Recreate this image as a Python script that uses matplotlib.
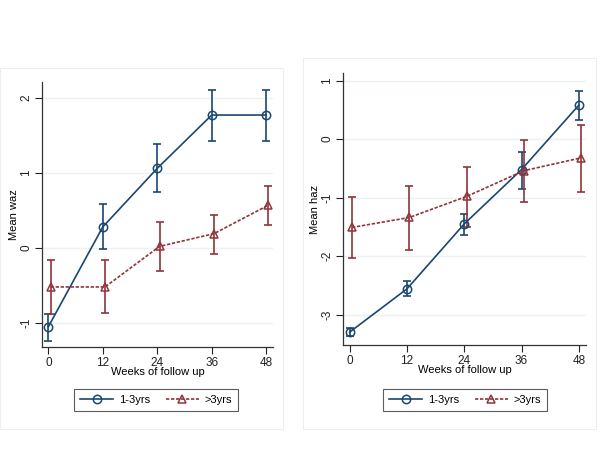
import matplotlib
matplotlib.use('Agg')
import matplotlib.pyplot as plt
from matplotlib.patches import Rectangle

plt.rcParams['font.family'] = ['Liberation Sans', 'DejaVu Sans']

weeks = [0, 12, 24, 36, 48]

# weight-for-age
waz_young = [-1.05, 0.28, 1.06, 1.77, 1.77]
waz_young_lo = [-1.24, -0.02, 0.75, 1.43, 1.43]
waz_young_hi = [-0.88, 0.59, 1.38, 2.11, 2.11]
waz_old = [-0.52, -0.52, 0.02, 0.19, 0.57]
waz_old_lo = [-0.88, -0.87, -0.31, -0.08, 0.31]
waz_old_hi = [-0.16, -0.16, 0.35, 0.44, 0.83]

# height-for-age
haz_young = [-3.30, -2.56, -1.45, -0.52, 0.58]
haz_young_lo = [-3.37, -2.69, -1.64, -0.85, 0.33]
haz_young_hi = [-3.23, -2.42, -1.28, -0.22, 0.82]
haz_old = [-1.51, -1.34, -0.98, -0.54, -0.32]
haz_old_lo = [-2.03, -1.89, -1.50, -1.08, -0.91]
haz_old_hi = [-0.99, -0.81, -0.48, -0.01, 0.245]

blue = '#1a476f'
red = '#90353b'
grid_c = '#eaf2f3'

fig = plt.figure(figsize=(6, 4.5), dpi=100)

# faint panel frames
fig.patches.append(Rectangle((0.0, 1 - 429 / 450), 283 / 600, (429 - 68) / 450,
                             transform=fig.transFigure, fill=False, ec='#eeeeee', lw=0.8))
fig.patches.append(Rectangle((303 / 600, 1 - 429 / 450), (596 - 303) / 600, (429 - 58) / 450,
                             transform=fig.transFigure, fill=False, ec='#eeeeee', lw=0.8))


def panel(rect, y1, lo1, hi1, y2, lo2, hi2, ylim, yticks, ylabel, leg_box):
    ax = fig.add_axes(rect)
    x2 = [w + 0.5 for w in weeks]
    e1 = [[a - b for a, b in zip(y1, lo1)], [b - a for a, b in zip(y1, hi1)]]
    e2 = [[a - b for a, b in zip(y2, lo2)], [b - a for a, b in zip(y2, hi2)]]
    ax.errorbar(weeks, y1, yerr=e1, fmt='none', ecolor=blue, elinewidth=1.2, capsize=3, capthick=1.2)
    ax.errorbar(x2, y2, yerr=e2, fmt='none', ecolor=red, elinewidth=1.2, capsize=3, capthick=1.2)
    l1, = ax.plot(weeks, y1, color=blue, lw=1.2, marker='o', ms=6, mfc='none', mec=blue, mew=1.1,
                  label='1-3yrs')
    l2, = ax.plot(x2, y2, color=red, lw=1.2, ls=(0, (2, 1)), marker='^', ms=6, mfc='none', mec=red,
                  mew=1.1, label='>3yrs')
    ax.set_xlim(-1.4, 49.5)
    ax.set_ylim(*ylim)
    ax.set_xticks(weeks)
    ax.set_yticks(yticks)
    ax.set_yticklabels([str(t) for t in yticks], rotation=90, va='center')
    ax.grid(axis='y', color=grid_c, lw=1)
    ax.set_axisbelow(True)
    for s in ['top', 'right']:
        ax.spines[s].set_visible(False)
    for s in ['left', 'bottom']:
        ax.spines[s].set_color('#333333')
        ax.spines[s].set_linewidth(0.9)
    ax.tick_params(labelsize=8.5, colors='#222222', length=5, width=0.8, pad=2)
    ax.set_xlabel('Weeks of follow up', fontsize=8, labelpad=-1)
    ax.set_ylabel(ylabel, fontsize=8, labelpad=1)
    leg = fig.legend(handles=[l1, l2], loc='center', bbox_to_anchor=leg_box,
                     ncol=2, fontsize=8, frameon=True, fancybox=False, handlelength=3,
                     columnspacing=1.4, borderpad=0.5, edgecolor='#333333', handletextpad=0.5)
    leg.get_frame().set_linewidth(0.8)
    return ax


panel([42 / 600, 1 - 347 / 450, (273 - 42) / 600, (347 - 82) / 450],
      waz_young, waz_young_lo, waz_young_hi, waz_old, waz_old_lo, waz_old_hi,
      (-1.32, 2.21), [-1, 0, 1, 2], 'Mean waz', (156 / 600, 1 - 400 / 450))
panel([343 / 600, 1 - 345 / 450, (586 - 343) / 600, (345 - 73) / 450],
      haz_young, haz_young_lo, haz_young_hi, haz_old, haz_old_lo, haz_old_hi,
      (-3.52, 1.13), [-3, -2, -1, 0, 1], 'Mean haz', (465 / 600, 1 - 400 / 450))

fig.savefig('out.png', dpi=100)
